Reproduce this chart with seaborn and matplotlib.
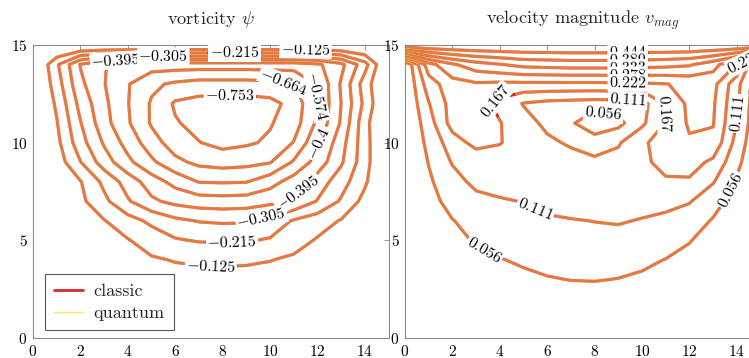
"""
Konturplots einer Lid-Driven-Cavity: Stromfunktion und Geschwindigkeitsbetrag,
klassische und Quanten-Lösung übereinander gezeichnet.
"""
import numpy as np
import matplotlib
matplotlib.use("Agg")
import matplotlib.pyplot as plt
from matplotlib.lines import Line2D
import seaborn as sns

sns.set_theme(style="white")
plt.rcParams["font.family"] = ["cmr10", "DejaVu Serif"]
plt.rcParams["mathtext.fontset"] = "cm"
plt.rcParams["axes.formatter.use_mathtext"] = True

# Gitterknoten 0..15 in x und y
NODES = np.arange(16)

PSI_LEVELS = [-0.753, -0.664, -0.574, -0.484, -0.395, -0.305, -0.215, -0.125]
PSI_LABELS = ["-0.753", "-0.664", "-0.574", "-0.4", "-0.395", "-0.305", "-0.215", "-0.125"]

# Stromfunktion, Zeilen y = 0 .. 15 (unten nach oben)
PSI = [
    [0] * 16,
    [0, -0.006, -0.012, -0.017, -0.021, -0.025, -0.028, -0.030, -0.030, -0.030, -0.028, -0.025, -0.021, -0.015, -0.008, 0],
    [0, -0.012, -0.025, -0.035, -0.043, -0.050, -0.055, -0.058, -0.060, -0.058, -0.055, -0.050, -0.042, -0.030, -0.016, 0],
    [0, -0.020, -0.040, -0.055, -0.070, -0.080, -0.090, -0.095, -0.095, -0.093, -0.088, -0.078, -0.065, -0.048, -0.025, 0],
    [0, -0.025, -0.050, -0.075, -0.095, -0.115, -0.130, -0.138, -0.140, -0.138, -0.128, -0.110, -0.090, -0.065, -0.035, 0],
    [0, -0.030, -0.060, -0.090, -0.120, -0.164, -0.206, -0.222, -0.224, -0.222, -0.206, -0.161, -0.117, -0.078, -0.039, 0],
    [0, -0.040, -0.080, -0.121, -0.179, -0.235, -0.285, -0.310, -0.318, -0.315, -0.275, -0.206, -0.164, -0.119, -0.065, 0],
    [0, -0.052, -0.104, -0.193, -0.295, -0.379, -0.420, -0.440, -0.446, -0.440, -0.420, -0.387, -0.300, -0.204, -0.096, 0],
    [0, -0.060, -0.120, -0.237, -0.345, -0.440, -0.514, -0.578, -0.582, -0.578, -0.520, -0.444, -0.355, -0.255, -0.140, 0],
    [0, -0.075, -0.212, -0.350, -0.462, -0.556, -0.641, -0.685, -0.700, -0.690, -0.670, -0.563, -0.446, -0.318, -0.161, 0],
    [0, -0.100, -0.269, -0.406, -0.518, -0.624, -0.710, -0.750, -0.780, -0.765, -0.740, -0.660, -0.499, -0.341, -0.161, 0],
    [0, -0.119, -0.300, -0.451, -0.563, -0.674, -0.745, -0.780, -0.800, -0.795, -0.760, -0.709, -0.556, -0.385, -0.155, 0],
    [0, -0.140, -0.335, -0.464, -0.570, -0.674, -0.765, -0.785, -0.790, -0.790, -0.780, -0.723, -0.570, -0.395, -0.192, 0],
    [0, -0.170, -0.375, -0.480, -0.568, -0.645, -0.680, -0.700, -0.700, -0.700, -0.690, -0.670, -0.570, -0.385, -0.170, 0],
    [0, -0.200, -0.400, -0.480, -0.520, -0.530, -0.530, -0.530, -0.530, -0.530, -0.530, -0.530, -0.500, -0.420, -0.250, 0],
    [0] * 16,
]

VMAG_LEVELS = [0.056, 0.111, 0.167, 0.222, 0.278, 0.333, 0.389, 0.444]
VMAG_LABELS = ["0.056", "0.111", "0.167", "0.222", "0.278", "0.333", "0.389", "0.444"]

# Geschwindigkeitsbetrag, Zeilen y = 0 .. 15 (oberste Zeile = Deckel)
VMAG = [
    [0] * 16,
    [0, 0.003, 0.006, 0.010, 0.013, 0.015, 0.017, 0.018, 0.019, 0.018, 0.017, 0.014, 0.011, 0.008, 0.004, 0],
    [0, 0.006, 0.013, 0.020, 0.026, 0.031, 0.035, 0.037, 0.038, 0.037, 0.034, 0.029, 0.023, 0.015, 0.008, 0],
    [0, 0.010, 0.020, 0.030, 0.040, 0.047, 0.053, 0.057, 0.058, 0.055, 0.050, 0.043, 0.035, 0.023, 0.012, 0],
    [0, 0.015, 0.030, 0.045, 0.054, 0.062, 0.070, 0.075, 0.075, 0.072, 0.064, 0.055, 0.045, 0.030, 0.015, 0],
    [0, 0.022, 0.043, 0.060, 0.072, 0.080, 0.088, 0.093, 0.095, 0.095, 0.088, 0.075, 0.058, 0.040, 0.020, 0],
    [0, 0.028, 0.054, 0.075, 0.088, 0.097, 0.103, 0.108, 0.112, 0.115, 0.108, 0.100, 0.080, 0.052, 0.026, 0],
    [0, 0.037, 0.075, 0.095, 0.105, 0.113, 0.128, 0.135, 0.135, 0.135, 0.130, 0.125, 0.115, 0.075, 0.035, 0],
    [0, 0.048, 0.090, 0.125, 0.135, 0.140, 0.140, 0.140, 0.140, 0.145, 0.150, 0.160, 0.160, 0.115, 0.050, 0],
    [0, 0.058, 0.115, 0.130, 0.140, 0.140, 0.135, 0.128, 0.120, 0.130, 0.155, 0.185, 0.190, 0.155, 0.070, 0],
    [0, 0.070, 0.140, 0.185, 0.170, 0.140, 0.120, 0.105, 0.090, 0.105, 0.155, 0.200, 0.215, 0.210, 0.090, 0],
    [0, 0.085, 0.190, 0.200, 0.170, 0.130, 0.100, 0.065, 0.010, 0.040, 0.100, 0.170, 0.230, 0.225, 0.110, 0],
    [0, 0.108, 0.190, 0.195, 0.150, 0.108, 0.095, 0.090, 0.085, 0.088, 0.090, 0.170, 0.235, 0.230, 0.120, 0],
    [0, 0.140, 0.200, 0.215, 0.210, 0.210, 0.210, 0.210, 0.210, 0.212, 0.215, 0.220, 0.235, 0.240, 0.130, 0],
    [0, 0.200, 0.270, 0.310, 0.330, 0.350, 0.355, 0.360, 0.360, 0.360, 0.355, 0.350, 0.340, 0.300, 0.220, 0],
    [0.5] * 16,
]

CLASSIC_COLOR = "#d62a28"
QUANTUM_COLOR = "#f7ea62"

# ungefähre Stellen der Konturbeschriftungen je Niveau (Datenkoordinaten)
PSI_LABEL_SPOTS = {
    -0.125: [(11.5, 14.77), (7.5, 3.7)],
    -0.215: [(8.5, 14.6), (8.4, 5.0)],
    -0.305: [(5.5, 14.42), (9.6, 6.3)],
    -0.395: [(3.5, 14.22), (10.8, 7.8)],
    -0.484: [(12.0, 10.0)],
    -0.574: [(12.0, 12.4)],
    -0.664: [(10.6, 13.22)],
    -0.753: [(8.3, 12.4)],
}
VMAG_LABEL_SPOTS = {
    0.056: [(8.4, 11.6), (13.7, 7.6), (3.4, 4.6)],
    0.111: [(9.4, 12.3), (14.0, 11.5), (5.5, 6.6)],
    0.167: [(3.8, 12.2), (10.95, 11.5)],
    0.222: [(9.4, 13.08), (14.4, 14.0)],
    0.278: [(9.4, 13.45)],
    0.333: [(9.4, 13.8)],
    0.389: [(9.4, 14.2)],
    0.444: [(9.4, 14.6)],
}


def draw_panel(ax, field, levels, labels, spots, label_order):
    z = np.array(field, dtype=float)
    ax.contour(NODES, NODES, z, levels=levels, colors=CLASSIC_COLOR,
               linewidths=2.2, linestyles="solid")
    # quantum-Linien je Niveau, damit jede Beschriftung an ihrer eigenen Linie sitzt
    pairs = list(zip(levels, labels))
    if label_order == "down":
        pairs = pairs[::-1]
    for lv, lab in pairs:
        cs = ax.contour(NODES, NODES, z, levels=[lv], colors=QUANTUM_COLOR,
                        linewidths=2.2, linestyles="solid", alpha=0.42)
        texts = ax.clabel(cs, fmt={cs.levels[0]: f"${lab}$"}, manual=spots[lv],
                          inline=True, inline_spacing=2, fontsize=11.5)
        for t in texts:
            t.set_color("black")
            t.set_bbox(dict(boxstyle="square,pad=0.08", fc="white", ec="none"))


def style_axes(ax, title):
    ax.set_xlim(0, 15)
    ax.set_ylim(0, 15)
    ax.set_xticks(range(0, 15, 2))
    ax.set_yticks([0, 5, 10, 15])
    ax.tick_params(direction="in", length=3.5, width=0.6, color="#8a8a8a",
                   top=True, right=True, labelsize=11, pad=4, labelcolor="black")
    for s in ax.spines.values():
        s.set_color("#8a8a8a")
        s.set_linewidth(0.8)
    ax.set_title(title, fontsize=13.2, pad=15)


fig = plt.figure(figsize=(7.49, 3.58), dpi=100)
ax_psi = fig.add_axes([0.0441, 0.0559, 0.4746, 0.8184])
ax_vel = fig.add_axes([0.5407, 0.0559, 0.4746, 0.8184])

draw_panel(ax_psi, PSI, PSI_LEVELS, PSI_LABELS, PSI_LABEL_SPOTS, "up")
draw_panel(ax_vel, VMAG, VMAG_LEVELS, VMAG_LABELS, VMAG_LABEL_SPOTS, "down")
style_axes(ax_psi, r"vorticity $\psi$")
style_axes(ax_vel, r"velocity magnitude $v_{mag}$")

handles = [Line2D([0], [0], color=CLASSIC_COLOR, lw=2.0),
           Line2D([0], [0], color=QUANTUM_COLOR, lw=1.0)]
leg = ax_psi.legend(handles, ["classic", "quantum"], loc="lower left",
                    bbox_to_anchor=(0.034, 0.027), fontsize=13, frameon=True,
                    fancybox=False, framealpha=1, edgecolor="#555555",
                    handlelength=1.6, handletextpad=0.6, borderpad=0.5,
                    labelspacing=0.35, borderaxespad=0)
leg.get_frame().set_linewidth(0.8)

fig.savefig("out.png", dpi=100)
